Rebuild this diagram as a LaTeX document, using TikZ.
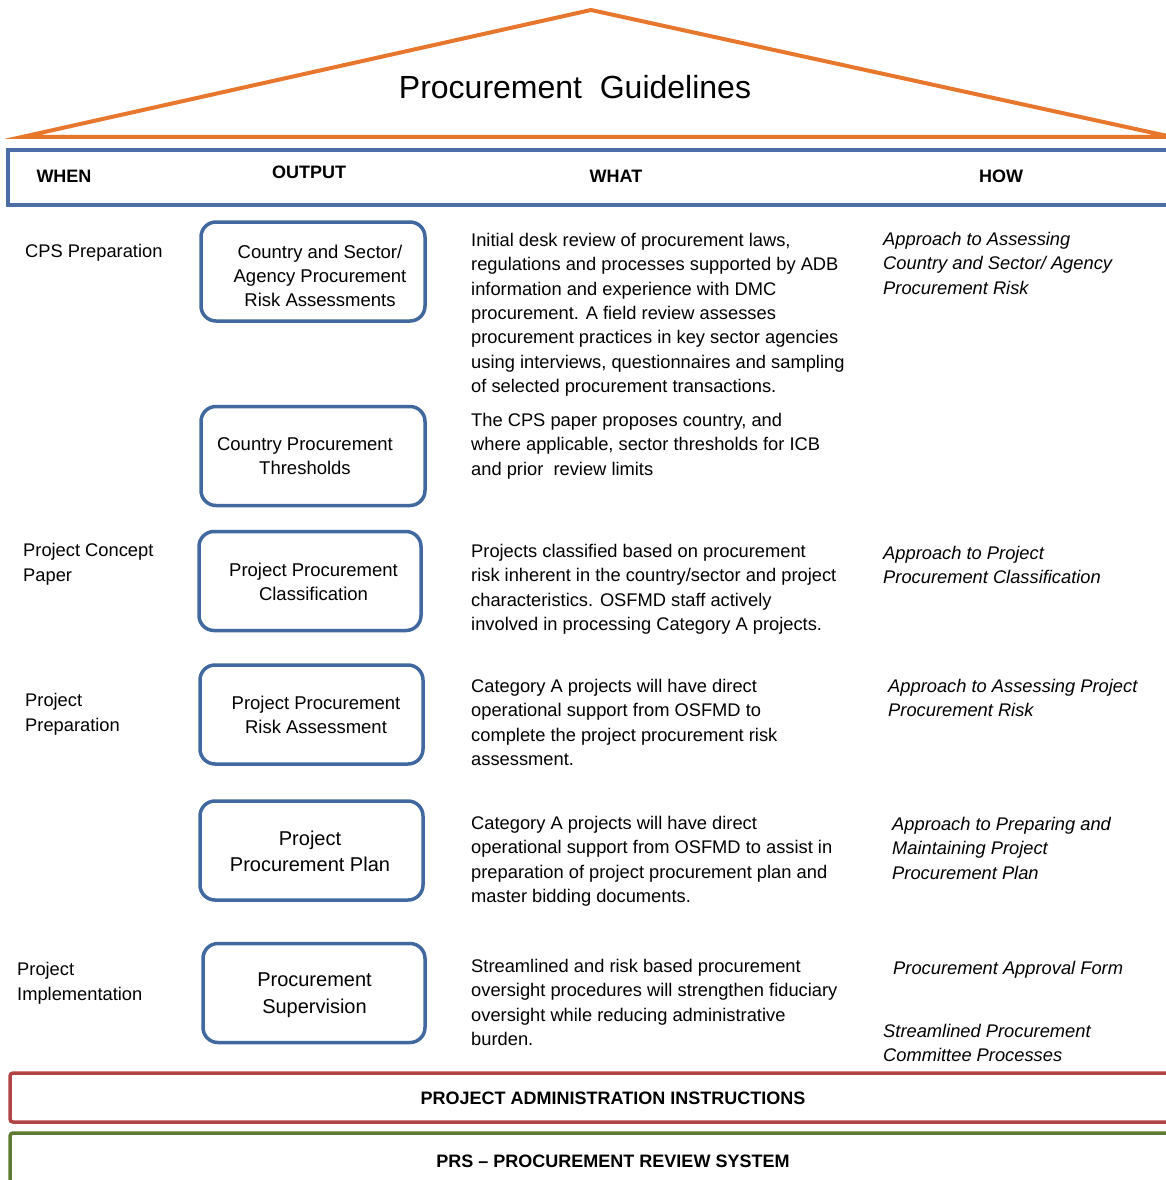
\documentclass[tikz,border=0pt]{standalone}
\usepackage{fontspec}
\setmainfont{Liberation Sans}
\definecolor{orng}{RGB}{232,119,46}
\definecolor{hdrblue}{RGB}{74,110,165}
\definecolor{boxblue}{RGB}{65,105,160}
\definecolor{redbox}{RGB}{178,68,70}
\definecolor{greenbox}{RGB}{94,122,50}
\newcommand{\fl}{\rule{0pt}{17pt}}
\begin{document}
\begin{tikzpicture}[x=1pt,y=-1pt,
  obox/.style={draw=boxblue, line width=3.5pt, rounded corners=15pt, minimum width=224pt, minimum height=99pt, inner sep=0pt},
  otext/.style={align=center, inner sep=0pt, font=\fontsize{18.5}{24}\selectfont},
  otextb/.style={align=center, inner sep=0pt, font=\fontsize{20}{26.5}\selectfont},
  whattext/.style={anchor=north west, align=left, inner sep=0pt, font=\fontsize{18.3}{24.4}\selectfont},
  howtext/.style={anchor=north west, align=left, inner sep=0pt, font=\fontsize{18.3}{24.5}\selectfont\itshape},
  whentext/.style={anchor=north west, align=left, inner sep=0pt, font=\fontsize{18.3}{25}\selectfont},
  hdr/.style={anchor=base, inner sep=0pt, font=\fontsize{18}{22}\selectfont\bfseries},
  bandtext/.style={anchor=base, inner sep=0pt, font=\fontsize{18}{22}\selectfont\bfseries}
]
\useasboundingbox (0,0) rectangle (1166,1180);
% roof
\coordinate (rl) at (22,137);
\coordinate (ra) at (591,10);
\coordinate (rr) at (1172,137);
\draw[orng, line width=4pt, line join=miter] (rl) -- (ra) -- (rr) -- cycle;
\node[anchor=base, inner sep=0pt, font=\fontsize{32}{38}\selectfont] (title) at (575,99) {Procurement\ \ Guidelines};
% header band
\draw[hdrblue, line width=3.5pt] (1180,150) -- (8,150) -- (8,205) -- (1180,205);
\node[hdr] (hwhen) at (64,182.5) {WHEN};
\node[hdr] (hout) at (309,178.5) {OUTPUT};
\node[hdr] (hwhat) at (616,182.5) {WHAT};
\node[hdr] (hhow) at (1001,182.5) {HOW};
% WHEN
\node[whentext] (w1) at (25,240) {\fl CPS Preparation};
\node[whentext] (w2) at (23,539) {\fl Project Concept\\Paper};
\node[whentext] (w3) at (25,689) {\fl Project\\Preparation};
\node[whentext] (w4) at (17,958) {\fl Project\\Implementation};
% OUTPUT boxes
\node[obox] (b1) at (313,271.5) {};
\node[obox] (b2) at (313,456) {};
\node[obox, minimum width=222pt] (b3) at (310,581) {};
\node[obox, minimum width=223pt] (b4) at (311.5,714.5) {};
\node[obox, minimum width=223pt] (b5) at (311.5,850.5) {};
\node[obox, minimum width=222pt] (b6) at (314,993) {};
\node[otext] (t1) at (320,276) {Country and Sector/\\Agency Procurement\\Risk Assessments};
\node[otext] (t2) at (305,456) {Country Procurement\\Thresholds};
\node[otext] (t3) at (313.5,581.5) {Project Procurement\\Classification};
\node[otext] (t4) at (316,715) {Project Procurement\\Risk Assessment};
\node[otextb] (t5) at (310,851.5) {Project\\Procurement Plan};
\node[otextb] (t6) at (314.5,995) {Procurement\\Supervision};
% WHAT
\node[whattext] (d1) at (471,229) {\fl Initial desk review of procurement laws,\\regulations and processes supported by ADB\\information and experience with DMC\\procurement. A field review assesses\\procurement practices in key sector agencies\\using interviews, questionnaires and sampling\\of selected procurement transactions.};
\node[whattext] (d2) at (471,409) {\fl The CPS paper proposes country, and\\where applicable, sector thresholds for ICB\\and prior\ \ review limits};
\node[whattext] (d3) at (471,540) {\fl Projects classified based on procurement\\risk inherent in the country/sector and project\\characteristics. OSFMD staff actively\\involved in processing Category A projects.};
\node[whattext] (d4) at (471,675) {\fl Category A projects will have direct\\operational support from OSFMD to\\complete the project procurement risk\\assessment.};
\node[whattext] (d5) at (471,812) {\fl Category A projects will have direct\\operational support from OSFMD to assist in\\preparation of project procurement plan and\\master bidding documents.};
\node[whattext] (d6) at (471,955) {\fl Streamlined and risk based procurement\\oversight procedures will strengthen fiduciary\\oversight while reducing administrative\\burden.};
% HOW
\node[howtext] (h1) at (883,228) {\fl Approach to Assessing\\Country and Sector/ Agency\\Procurement Risk};
\node[howtext] (h2) at (883,542) {\fl Approach to Project\\Procurement Classification};
\node[howtext] (h3) at (888,675) {\fl Approach to Assessing Project\\Procurement Risk};
\node[howtext] (h4) at (892,813) {\fl Approach to Preparing and\\Maintaining Project\\Procurement Plan};
\node[howtext] (h5) at (893,957) {\fl Procurement Approval Form};
\node[howtext] (h6) at (883,1020) {\fl Streamlined Procurement\\Committee Processes};
% bottom bands
\draw[redbox, line width=3.5pt, rounded corners=3pt] (1185,1073) -- (10,1073) -- (10,1122) -- (1185,1122);
\node[bandtext] (pai) at (613,1104.5) {PROJECT ADMINISTRATION INSTRUCTIONS};
\draw[greenbox, line width=3.5pt, rounded corners=3pt] (1185,1133) -- (10,1133) -- (10,1195);
\node[bandtext] (prs) at (613,1167.5) {PRS -- PROCUREMENT REVIEW SYSTEM};
\end{tikzpicture}
\end{document}
